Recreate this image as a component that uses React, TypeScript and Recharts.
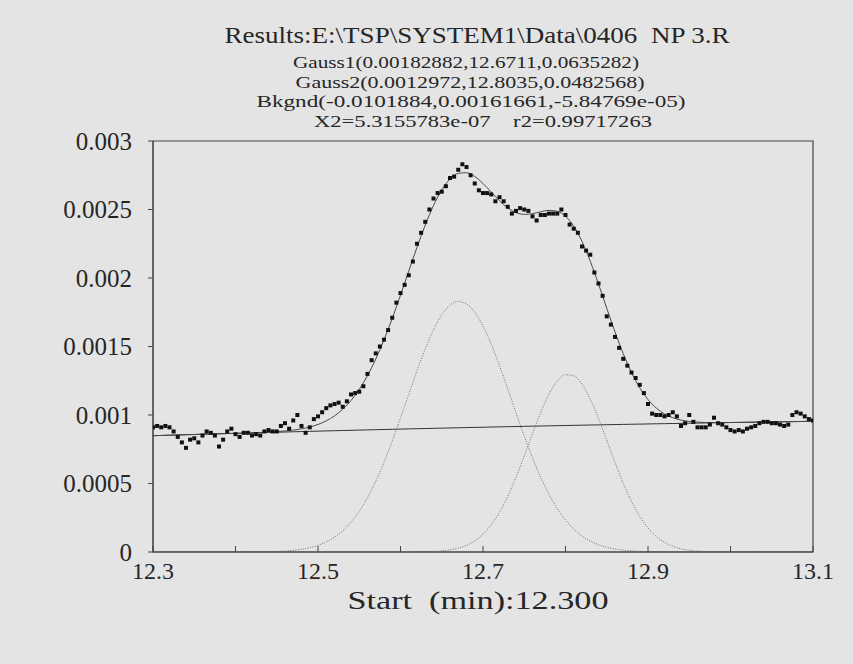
import { ComposedChart, Line, Scatter, XAxis, YAxis, ReferenceArea } from 'recharts';

const serif = '"Liberation Serif", "Times New Roman", serif';
const ink = '#262626';

const titleLines = [
  'Results:E:\\TSP\\SYSTEM1\\Data\\0406  NP 3.R',
  'Gauss1(0.00182882,12.6711,0.0635282)',
  'Gauss2(0.0012972,12.8035,0.0482568)',
  'Bkgnd(-0.0101884,0.00161661,-5.84769e-05)',
  'X2=5.3155783e-07    r2=0.99717263',
];
const xTitle = 'Start  (min):12.300';

const xTicks = [12.3, 12.4, 12.5, 12.6, 12.7, 12.8, 12.9, 13.0, 13.1];
const xLabelled = ['12.3', '12.5', '12.7', '12.9', '13.1'];
const yTicks = [0, 0.0005, 0.001, 0.0015, 0.002, 0.0025, 0.003];

// measured points, every 0.005 min from 12.300
const measured = [
  0.00091, 0.00092, 0.00091, 0.00092, 0.00091, 0.00088, 0.00084, 0.0008, 0.00076, 0.00082,
  0.00083, 0.0008, 0.00085, 0.00088, 0.00087, 0.00085, 0.00077, 0.00082, 0.00088, 0.0009,
  0.00086, 0.00084, 0.00087, 0.00087, 0.00085, 0.00086, 0.00085, 0.00088, 0.00089, 0.00088,
  0.00088, 0.00092, 0.00094, 0.0009, 0.00096, 0.001, 0.00092, 0.00087, 0.00091, 0.00097,
  0.00099, 0.00102, 0.00105, 0.00107, 0.00108, 0.00109, 0.00106, 0.0011, 0.00115, 0.00116,
  0.00117, 0.00121, 0.0013, 0.0014, 0.00145, 0.0015, 0.00155, 0.00162, 0.00171, 0.00182,
  0.00189, 0.00195, 0.00202, 0.00212, 0.00225, 0.00233, 0.00241, 0.0025, 0.00258, 0.00262,
  0.00263, 0.00267, 0.00273, 0.00274, 0.00279, 0.00283, 0.00281, 0.00275, 0.00269, 0.00264,
  0.00262, 0.00262, 0.00261, 0.00256, 0.00259, 0.00256, 0.00252, 0.00247, 0.00249, 0.00251,
  0.0025, 0.00249, 0.00245, 0.00242, 0.00246, 0.00246, 0.00247, 0.00247, 0.00247, 0.0025,
  0.00246, 0.00239, 0.00236, 0.00233, 0.00223, 0.0022, 0.00217, 0.00204, 0.00196, 0.00187,
  0.00172, 0.00166, 0.00157, 0.00149, 0.00141, 0.00136, 0.00131, 0.00127, 0.00122, 0.00116,
  0.00108, 0.00101, 0.001, 0.001, 0.00099, 0.001, 0.00102, 0.00099, 0.00092, 0.00094,
  0.001, 0.00095, 0.00091, 0.00091, 0.00091, 0.00093, 0.00098, 0.00094, 0.00093, 0.00091,
  0.00089, 0.00088, 0.00089, 0.00088, 0.0009, 0.00091, 0.00092, 0.00094, 0.00095, 0.00095,
  0.00094, 0.00094, 0.00093, 0.00092, 0.00093, 0.001, 0.00102, 0.00101, 0.00099, 0.00097,
  0.00096,
];

// curves, every 0.01 min from 12.30
const fitCurve = [
  0.0008489, 0.0008507, 0.0008525, 0.0008542, 0.000856, 0.0008577, 0.0008595, 0.0008612, 0.000863, 0.0008646,
  0.0008663, 0.0008682, 0.0008701, 0.0008725, 0.0008752, 0.0008786, 0.0008832, 0.0008897, 0.0008989, 0.0009121,
  0.0009309, 0.0009572, 0.0009934, 0.0010421, 0.0011059, 0.001187, 0.0012876, 0.0014082, 0.0015484, 0.0017052,
  0.001875, 0.0020505, 0.0022241, 0.0023868, 0.0025293, 0.0026429, 0.0027222, 0.0027637, 0.0027681, 0.0027407,
  0.0026899, 0.0026269, 0.0025636, 0.0025112, 0.0024774, 0.0024645, 0.0024697, 0.0024836, 0.0024939, 0.0024868,
  0.0024506, 0.0023775, 0.0022666, 0.0021226, 0.0019559, 0.0017794, 0.001606, 0.0014469, 0.00131, 0.0011986,
  0.0011132, 0.001051, 0.001008, 0.0009802, 0.0009628, 0.0009529, 0.0009477, 0.0009454, 0.0009446, 0.0009447,
  0.0009452, 0.0009459, 0.0009468, 0.0009477, 0.0009486, 0.0009495, 0.0009504, 0.0009513, 0.0009522, 0.0009531,
  0.000954,
];
const gauss1 = [
  0, 0, 0, 0, 0, 0, 0, 0, 0.00000005, 0.0000001,
  0.0000002, 0.0000004, 0.0000007, 0.0000014, 0.0000025, 0.0000043, 0.0000073, 0.0000122, 0.0000198, 0.0000315,
  0.0000487, 0.0000735, 0.0001081, 0.0001553, 0.0002176, 0.0002972, 0.0003963, 0.0005155, 0.0006542, 0.0008096,
  0.0009777, 0.0011516, 0.0013233, 0.0014835, 0.0016224, 0.0017306, 0.0018012, 0.0018286, 0.0018109, 0.0017496,
  0.001649, 0.0015163, 0.0013599, 0.0011898, 0.0010157, 0.0008457, 0.0006871, 0.0005444, 0.0004208, 0.0003173,
  0.0002335, 0.0001675, 0.0001173, 0.0000801, 0.0000534, 0.0000347, 0.000022, 0.0000136, 0.0000082, 0.0000048,
  0.0000028, 0.0000016, 0.0000008, 0.0000005, 0.0000002, 0, 0, 0, 0, 0,
  0, 0, 0, 0, 0, 0, 0, 0, 0, 0,
  0,
];
const gauss2 = [
  0, 0, 0, 0, 0, 0, 0, 0, 0, 0,
  0, 0, 0, 0, 0, 0, 0, 0, 0, 0,
  0, 0, 0, 0, 0, 0, 0, 0, 0, 0,
  0.0000002, 0.0000004, 0.0000009, 0.000002, 0.0000042, 0.0000082, 0.0000156, 0.0000283, 0.0000491, 0.0000816,
  0.0001301, 0.0001985, 0.0002903, 0.0004067, 0.0005458, 0.0007016, 0.0008641, 0.0010195, 0.0011522, 0.0012474,
  0.0012938, 0.0012855, 0.0012236, 0.0011156, 0.0009745, 0.0008155, 0.0006537, 0.0005019, 0.0003693, 0.0002602,
  0.0001757, 0.0001136, 0.0000704, 0.0000418, 0.0000237, 0.0000129, 0.0000067, 0.0000034, 0.0000016, 0.0000007,
  0.0000003, 0, 0, 0, 0, 0, 0, 0, 0, 0,
  0,
];
const bkgnd = [
  0.0008489, 0.0008507, 0.0008525, 0.0008542, 0.000856, 0.0008577, 0.0008595, 0.0008612, 0.0008629, 0.0008645,
  0.0008661, 0.0008678, 0.0008694, 0.0008711, 0.0008727, 0.0008743, 0.0008759, 0.0008775, 0.0008791, 0.0008806,
  0.0008822, 0.0008837, 0.0008853, 0.0008868, 0.0008883, 0.0008898, 0.0008913, 0.0008927, 0.0008942, 0.0008956,
  0.0008971, 0.0008985, 0.0008999, 0.0009013, 0.0009027, 0.0009041, 0.0009054, 0.0009068, 0.0009081, 0.0009095,
  0.0009108, 0.0009121, 0.0009134, 0.0009147, 0.0009159, 0.0009172, 0.0009185, 0.0009197, 0.0009209, 0.0009221,
  0.0009233, 0.0009245, 0.0009257, 0.0009269, 0.000928, 0.0009292, 0.0009303, 0.0009314, 0.0009325, 0.0009336,
  0.0009347, 0.0009358, 0.0009368, 0.0009379, 0.0009389, 0.00094, 0.000941, 0.000942, 0.000943, 0.000944,
  0.0009449, 0.0009459, 0.0009468, 0.0009477, 0.0009486, 0.0009495, 0.0009504, 0.0009513, 0.0009522, 0.0009531,
  0.000954,
];

const measuredRows = measured.map((v, i) => ({ x: +(12.3 + i * 0.005).toFixed(3), v }));
const curveRows = fitCurve.map((fit, i) => ({
  x: +(12.3 + i * 0.01).toFixed(2),
  fit,
  g1: gauss1[i],
  g2: gauss2[i],
  bkg: bkgnd[i],
}));

function XTick(props: any) {
  const { x, y, payload } = props;
  const label = payload.value.toFixed(1);
  const show = xLabelled.includes(label);
  return (
    <g>
      <line x1={x} x2={x} y1={y} y2={y - 6} stroke="#444" />
      {show && (
        <text x={x} y={y + 27} textAnchor="middle" fontSize={24} fontFamily={serif} fill={ink}>
          {label}
        </text>
      )}
    </g>
  );
}

const Dot = (p: any) => <rect x={p.cx - 2} y={p.cy - 2} width={4} height={4} fill="#111" />;

const titleLayout = [
  { cx: 477, y: 43, size: 24, len: 505 },
  { cx: 466, y: 68, size: 17.5, len: 346 },
  { cx: 470, y: 87.5, size: 17.5, len: 349 },
  { cx: 471, y: 107, size: 17.5, len: 429 },
  { cx: 483, y: 127, size: 17.5, len: 338 },
];

export default function App() {
  return (
    <div style={{ position: 'fixed', left: 0, top: 0, width: 853, height: 664, background: '#e4e4e4' }}>
      <ComposedChart
        width={853}
        height={664}
        data={curveRows}
        margin={{ top: 141, right: 40, left: 0, bottom: 52 }}
      >
        <XAxis
          type="number"
          dataKey="x"
          domain={[12.3, 13.1]}
          ticks={xTicks}
          allowDataOverflow
          height={60}
          tickSize={0}
          tickMargin={0}
          tickLine={false}
          axisLine={{ stroke: '#444' }}
          tick={<XTick />}
          interval={0}
        />
        <YAxis
          type="number"
          domain={[0, 0.003]}
          ticks={yTicks}
          allowDataOverflow
          width={153}
          tickSize={5}
          tickMargin={16}
          axisLine={{ stroke: '#444' }}
          tickLine={{ stroke: '#444' }}
          tick={{ fontSize: 25, fontFamily: serif, fill: ink }}
          interval={0}
        />
        <ReferenceArea x1={12.3} x2={13.1} y1={0} y2={0.003} fill="none" stroke="#444" strokeWidth={1.2} />
        <Line dataKey="bkg" type="monotone" stroke="#333" strokeWidth={1} dot={false} isAnimationActive={false} />
        <Line dataKey="g1" type="monotone" stroke="#6f6f6f" strokeWidth={1} strokeDasharray="1 1.5" dot={false} isAnimationActive={false} />
        <Line dataKey="g2" type="monotone" stroke="#6f6f6f" strokeWidth={1} strokeDasharray="1 1.5" dot={false} isAnimationActive={false} />
        <Line dataKey="fit" type="monotone" stroke="#4a4a4a" strokeWidth={1} dot={false} isAnimationActive={false} />
        <Scatter data={measuredRows} dataKey="v" shape={Dot} isAnimationActive={false} />
      </ComposedChart>
      <svg width={853} height={664} style={{ position: 'absolute', left: 0, top: 0, pointerEvents: 'none' }}>
        {titleLines.map((t, i) => (
          <text
            key={i}
            x={titleLayout[i].cx}
            y={titleLayout[i].y}
            textAnchor="middle"
            fontSize={titleLayout[i].size}
            fontFamily={serif}
            fill={ink}
            textLength={titleLayout[i].len}
            lengthAdjust="spacingAndGlyphs"
            style={{ whiteSpace: 'pre' }}
          >
            {t}
          </text>
        ))}
        <text
          x={478}
          y={609}
          textAnchor="middle"
          fontSize={26}
          fontFamily={serif}
          fill={ink}
          textLength={261}
          lengthAdjust="spacingAndGlyphs"
          style={{ whiteSpace: 'pre' }}
        >
          {xTitle}
        </text>
      </svg>
    </div>
  );
}
